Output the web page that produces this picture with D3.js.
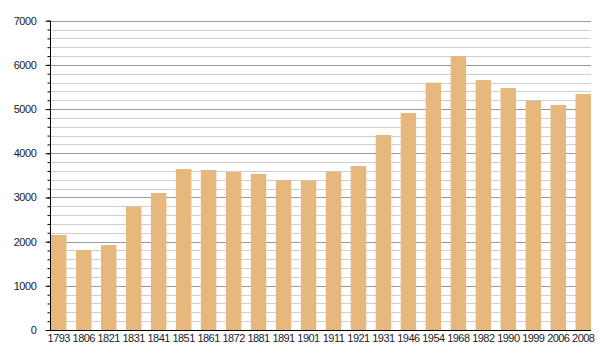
<!DOCTYPE html>
<html>
<head>
<meta charset="utf-8">
<script src="https://cdn.jsdelivr.net/npm/d3@7"></script>
<style>
  html, body { margin: 0; padding: 0; background: #fff; }
  svg { display: block; }
  text { font-family: "Liberation Sans", Arial, Helvetica, sans-serif; fill: #222; }
</style>
</head>
<body>
<svg id="chart" width="600" height="360"></svg>
<script>
const years = ["1793","1806","1821","1831","1841","1851","1861","1872","1881","1891","1901",
               "1911","1921","1931","1946","1954","1968","1982","1990","1999","2006","2008"];
const population = [2150,1810,1923,2791,3100,3643,3621,3575,3530,3394,3379,
                    3583,3711,4413,4911,5597,6200,5657,5476,5189,5092,5341];
const yMajorTicks = [0,1000,2000,3000,4000,5000,6000,7000];
const yMinorTicks = d3.range(0, 7001, 200);

const svg = d3.select("#chart");
const x0 = 50.5, x1 = 591, yTop = 20.7, yBot = 330;

const x = d3.scaleBand().domain(years).range([51, x1]).paddingInner(0.38).paddingOuter(0);
const y = d3.scaleLinear().domain([0, 7000]).range([yBot, yTop]);

// gridlines
svg.append("g").selectAll("line").data(yMinorTicks).join("line")
  .attr("x1", x0).attr("x2", x1)
  .attr("y1", d => Math.round(y(d)) + 0.5).attr("y2", d => Math.round(y(d)) + 0.5)
  .attr("stroke", d => d % 1000 === 0 ? "#999" : "#cfcfcf")
  .attr("stroke-width", 1);

// bars
svg.append("g").selectAll("rect").data(years).join("rect")
  .attr("x", d => x(d))
  .attr("width", x.bandwidth())
  .attr("y", (d, i) => y(population[i]))
  .attr("height", (d, i) => yBot - y(population[i]))
  .attr("fill", "#e7b87e");

// y axis
const yAxisMinor = d3.axisLeft(y).tickValues(yMinorTicks).tickSize(3).tickFormat("");
const ga = svg.append("g").attr("transform", `translate(${x0},0)`).call(yAxisMinor);
ga.select(".domain").remove();
ga.selectAll("line").attr("stroke", "#000");
const yAxis = d3.axisLeft(y).tickValues(yMajorTicks).tickSize(5).tickPadding(9).tickFormat(d3.format("d"));
const gy = svg.append("g").attr("transform", `translate(${x0},0)`).call(yAxis);
gy.select(".domain").remove();
gy.selectAll("line").attr("stroke", "#000");
gy.selectAll("text").style("font-size", "11px").style("letter-spacing", "-0.4px")
  .attr("fill", "#222").style("font-family", "'Liberation Sans', Arial, sans-serif");

svg.append("line").attr("x1", x0).attr("x2", x0).attr("y1", yTop).attr("y2", yBot)
  .attr("stroke", "#000").attr("stroke-width", 1);

// x axis
const xAxis = d3.axisBottom(x).tickSize(0).tickPadding(4);
const gx = svg.append("g").attr("transform", `translate(0,${yBot})`).call(xAxis);
gx.select(".domain").remove();
gx.selectAll("text").style("font-size", "11px").style("letter-spacing", "-0.55px")
  .attr("fill", "#222").style("font-family", "'Liberation Sans', Arial, sans-serif");
svg.append("line").attr("x1", x0 - 0.5).attr("x2", x1).attr("y1", yBot + 0.5).attr("y2", yBot + 0.5)
  .attr("stroke", "#000").attr("stroke-width", 1.2);
</script>
</body>
</html>
